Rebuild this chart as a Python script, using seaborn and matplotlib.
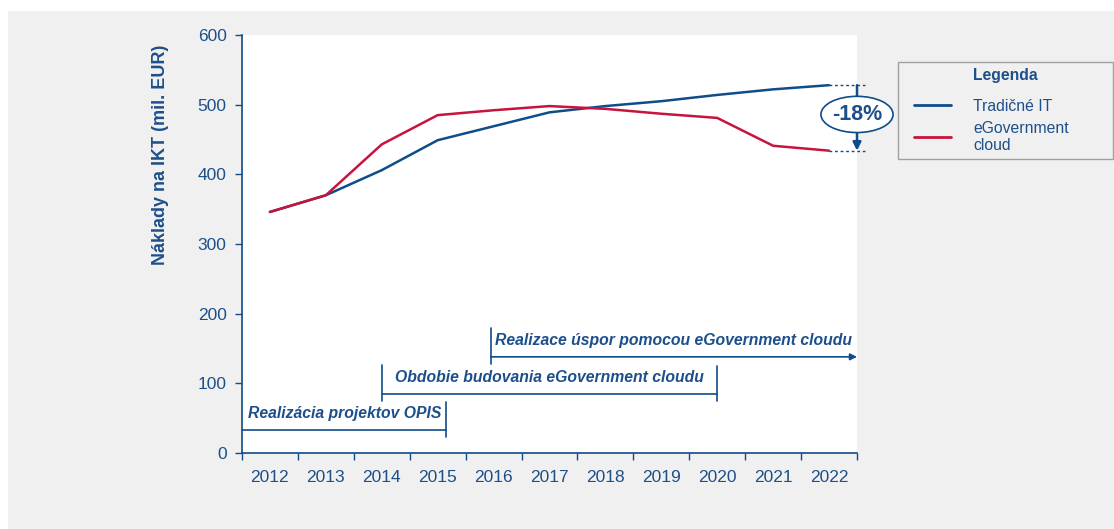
import matplotlib
matplotlib.use('Agg')
import matplotlib.pyplot as plt
from matplotlib.patches import Ellipse, Rectangle
from matplotlib.lines import Line2D
from matplotlib.legend_handler import HandlerLine2D
import seaborn as sns
import pandas as pd
import numpy as np

# hodnoty odčítané z grafu (mil. EUR)
roky = [2012, 2013, 2014, 2015, 2016, 2017, 2018, 2019, 2020, 2021, 2022]
tradicne_it = [346, 370, 406, 449, 469, 489, 498, 505, 514, 522, 528]
egov_cloud = [346, 370, 443, 485, 492, 498, 494, 487, 481, 441, 434]
serie = ['Tradičné IT', 'eGovernment\ncloud']

faza_texty = ['Realizácia projektov OPIS',
              'Obdobie budovania eGovernment cloudu',
              'Realizace úspor pomocou eGovernment cloudu']
faza_od = [2011.5, 2014.0, 2015.95]
faza_do = [2015.15, 2020.0, 2022.5]
faza_y = [33, 85, 138]

MODRA = '#0f4c8a'
CERVENA = '#c8143c'
TEXT = '#1d4f8a'
POZADIE = '#f0f0f0'

sns.set_theme(style='ticks')
plt.rcParams['font.family'] = ['Liberation Sans', 'DejaVu Sans']

df = pd.DataFrame({
    'Rok': roky * 2,
    'Náklady': tradicne_it + egov_cloud,
    'Scenár': [serie[0]] * len(roky) + [serie[1]] * len(roky),
})

fig = plt.figure(figsize=(11.14, 5.29), dpi=100, facecolor='white')
# sivé pozadie s bielym okrajom hore a vľavo
fig.patches.append(Rectangle((8 / 1114, 0), 1, 1 - 11 / 529, transform=fig.transFigure,
                             facecolor=POZADIE, edgecolor='none', zorder=-10))
ax = fig.add_axes([0.2172, 0.1437, 0.5521, 0.7901])
ax.set_facecolor('white')

sns.lineplot(data=df, x='Rok', y='Náklady', hue='Scenár', palette=[MODRA, CERVENA],
             linewidth=1.8, ax=ax, legend=False)

ax.set_xlim(2011.5, 2022.5)
ax.set_ylim(0, 600)
ax.set_xlabel('')
ax.set_yticks(range(0, 601, 100))
ax.set_xticks(roky)
ax.set_xticks(np.arange(2011.5, 2023, 1), minor=True)
ax.tick_params(axis='y', direction='out', length=5, width=1, color=MODRA,
               labelcolor=TEXT, labelsize=12.5, pad=6)
ax.tick_params(axis='x', which='major', length=0, pad=12, labelsize=12.5, labelcolor=TEXT)
ax.tick_params(axis='x', which='minor', length=5, width=1, color=MODRA, direction='out')
sns.despine(ax=ax)
for s in ['left', 'bottom']:
    ax.spines[s].set_color(MODRA)
    ax.spines[s].set_linewidth(1.2)

ax.set_ylabel('Náklady na IKT (mil. EUR)', fontsize=13, fontweight='bold', color=TEXT)
ax.yaxis.set_label_coords(-0.119, 0.713)

# fázy projektu
text_x = [2011.6, 2014.24, 2016.03]
for i, (txt, x0, x1, y) in enumerate(zip(faza_texty, faza_od, faza_do, faza_y)):
    if i == 2:
        ax.annotate('', xy=(x1, y), xytext=(x0, y), annotation_clip=False,
                    arrowprops=dict(arrowstyle='-|>', color=MODRA, lw=1.2,
                                    mutation_scale=10, shrinkA=0, shrinkB=0))
    else:
        ax.plot([x0, x1], [y, y], color=MODRA, lw=1.2, clip_on=False)
    if i > 0:
        ax.plot([x0, x0], [y - 10, y + 42], color=MODRA, lw=1.2)
    if i < 2:
        ax.plot([x1, x1], [y - 10, y + 40], color=MODRA, lw=1.2)
    ax.text(text_x[i], y + 24, txt, fontsize=11.3, fontweight='bold', fontstyle='italic',
            color=TEXT, va='center', ha='left')

# rozdiel v roku 2022
hore, dole = tradicne_it[-1], egov_cloud[-1]
for v in [hore, dole]:
    ax.plot([roky[-1], roky[-1] + 0.65], [v, v], color=MODRA, lw=1, ls=(0, (2, 2)),
            clip_on=False)
ax.annotate('', xy=(2022.5, dole), xytext=(2022.5, hore), annotation_clip=False,
            arrowprops=dict(arrowstyle='-|>', color=MODRA, lw=1.8, mutation_scale=12,
                            shrinkA=0, shrinkB=0))
stred = (hore + dole) / 2 + 5
ax.add_patch(Ellipse((2022.5, stred), width=1.29, height=52, facecolor='white',
                     edgecolor=MODRA, lw=1.2, clip_on=False, zorder=5))
zmena = round((dole / hore - 1) * 100)
ax.text(2022.5, stred, f'{zmena}%', fontsize=15.5, fontweight='bold', color=TEXT,
        ha='center', va='center', zorder=6)

handles = [Line2D([], [], color=MODRA, lw=2), Line2D([], [], color=CERVENA, lw=2)]
leg = ax.legend(handles, serie, title='Legenda', loc='upper left',
                bbox_to_anchor=(898 / 1114, 1 - 62 / 529, 215 / 1114, 0),
                bbox_transform=fig.transFigure, mode='expand', borderaxespad=0,
                frameon=True, fancybox=False, edgecolor='#a0a0a0', facecolor=POZADIE,
                framealpha=1, fontsize=11.3, labelcolor=TEXT, handlelength=3.0,
                handletextpad=1.4, borderpad=0.4, labelspacing=0.45,
                handler_map={Line2D: HandlerLine2D(xpad=0.6)},
                title_fontproperties={'weight': 'bold', 'size': 11.3})
leg.get_title().set_color(TEXT)
leg.get_frame().set_linewidth(1)
leg._legend_box.sep = 11  # väčšia medzera pod nadpisom legendy

fig.savefig('out.png', dpi=100, facecolor='white')
